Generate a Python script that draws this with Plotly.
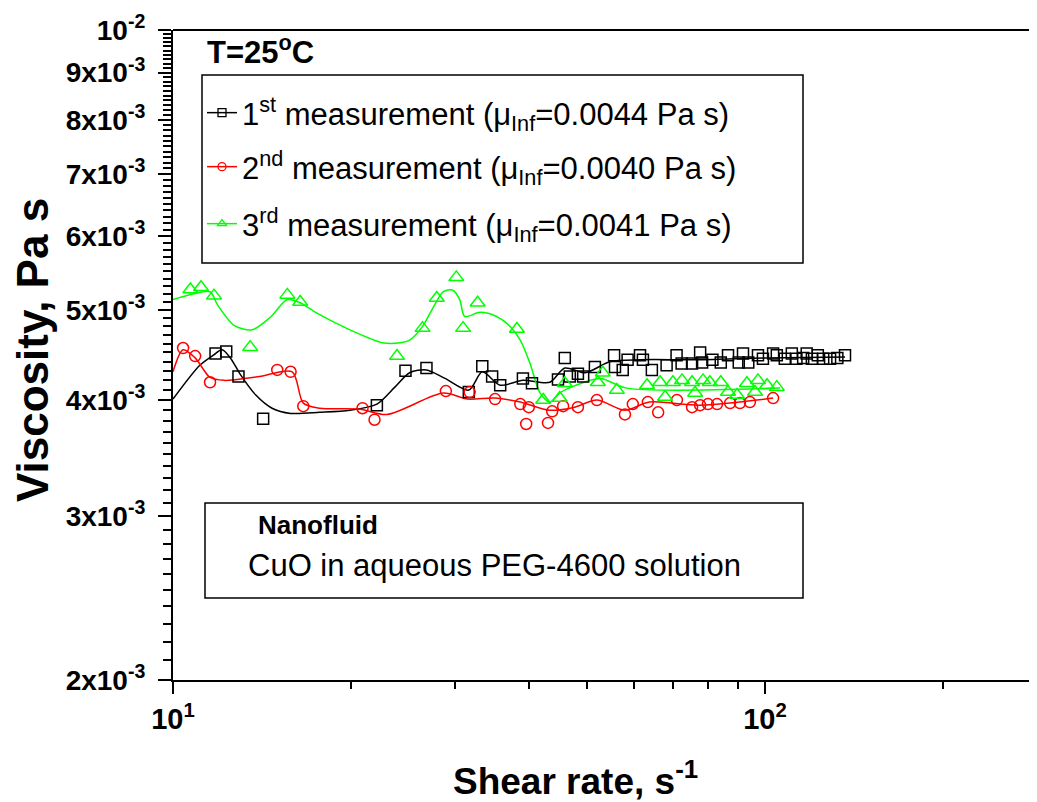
import numpy as np
import plotly.graph_objects as go

# ---------------- data ----------------
# 1st measurement (black squares)
shear_1 = [11.8, 12.3, 12.9, 14.2, 22.1, 24.7, 26.8, 31.6, 33.3, 34.6, 35.7, 39.0, 40.4, 44.7, 45.9,
           46.8, 48.3, 49.3, 51.6, 55.6, 55.8, 57.5, 58.6, 61.5, 62.2, 64.4, 68.2, 70.9, 72.3, 75.3,
           77.7, 78.3, 81.5, 84.2, 86.6, 90.3, 91.8, 93.7, 97.3, 99.2, 103.2, 104.7, 108.0, 111.0,
           113.0, 116.0, 117.6, 120.0, 122.8, 125.4, 128.8, 132.5, 136.5]
visc_1 = [4.49, 4.51, 4.24, 3.82, 3.95, 4.30, 4.33, 4.08, 4.35, 4.24, 4.15, 4.22, 4.17, 4.21, 4.44,
          4.24, 4.27, 4.24, 4.34, 4.47, 4.34, 4.31, 4.42, 4.47, 4.42, 4.31, 4.36, 4.47, 4.38, 4.38,
          4.50, 4.39, 4.42, 4.39, 4.47, 4.39, 4.49, 4.39, 4.47, 4.43, 4.49, 4.47, 4.43, 4.49,
          4.43, 4.44, 4.49, 4.43, 4.47, 4.43, 4.43, 4.44, 4.47]  # x1e-3 Pa s

# 2nd measurement (red circles)
shear_2 = [10.4, 10.9, 11.55, 15.0, 15.8, 16.6, 20.9, 21.9, 28.9, 31.7, 35.0, 38.6, 39.5, 39.9, 43.0,
           43.7, 45.6, 48.3, 52.0, 58.0, 59.8, 63.4, 66.0, 71.0, 75.3, 77.7, 80.1, 83.0, 87.3, 90.7,
           94.3, 103.2]
visc_2 = [4.55, 4.46, 4.18, 4.31, 4.29, 3.94, 3.92, 3.81, 4.09, 4.08, 4.01, 3.96, 3.77, 3.93, 3.78,
          3.89, 3.94, 3.93, 4.00, 3.86, 3.96, 3.98, 3.88, 4.00, 3.93, 3.95, 3.96, 3.96, 3.97, 3.97,
          3.98, 4.02]

# 3rd measurement (green triangles)
shear_3 = [10.7, 11.15, 11.73, 13.5, 15.6, 16.4, 23.9, 26.4, 27.9, 30.1, 30.9, 32.7, 38.1, 42.2, 45.0,
           45.9, 52.2, 53.2, 56.2, 63.2, 66.5, 67.8, 69.9, 72.4, 75.3, 76.2, 78.6, 80.7, 84.2, 86.6,
           89.7, 93.2, 96.2, 97.3, 100.8, 104.7]
visc_3 = [5.26, 5.29, 5.18, 4.56, 5.19, 5.10, 4.46, 4.78, 5.15, 5.42, 4.78, 5.09, 4.77, 4.00, 4.02,
          4.17, 4.18, 4.28, 4.10, 4.15, 4.18, 4.03, 4.18, 4.20, 4.18, 4.07, 4.20, 4.18, 4.18, 4.08,
          4.05, 4.17, 4.08, 4.20, 4.15, 4.13]

# smoothed curves drawn through each series
fit_x_1 = [10, 11.1, 11.7, 12.1, 12.5, 13.0, 13.8, 14.7, 15.8, 17.7, 19.9, 22.1, 23.7, 25.1, 26.8, 28.8,
           31.6, 33.3, 35.7, 39.0, 43.3, 45.9, 49.7, 54.8, 61.5, 77.7, 100, 136.5]
fit_y_1 = [4.01, 4.36, 4.47, 4.53, 4.44, 4.26, 4.05, 3.92, 3.87, 3.88, 3.90, 3.96, 4.13, 4.28, 4.31, 4.22,
           4.10, 4.29, 4.15, 4.20, 4.18, 4.33, 4.28, 4.40, 4.42, 4.42, 4.44, 4.45]
fit_x_2 = [10, 10.4, 10.9, 11.55, 12.2, 14.0, 15.9, 16.6, 17.7, 20.7, 23.0, 28.6, 31.4, 35.0, 38.6, 43.3,
           47.7, 52.0, 58.0, 63.8, 77.7, 103.2]
fit_y_2 = [4.29, 4.53, 4.44, 4.23, 4.20, 4.24, 4.29, 3.97, 3.92, 3.91, 3.86, 4.07, 4.01, 4.02, 3.98, 3.90,
           3.93, 4.00, 3.90, 3.98, 3.95, 4.02]
fit_x_3 = [10, 10.8, 11.55, 11.9, 12.7, 13.6, 14.6, 15.6, 16.4, 17.5, 19.9, 22.6, 24.2, 25.1, 26.4, 27.5,
           28.6, 29.7, 30.5, 31.1, 33.0, 35.2, 37.1, 38.6, 40.1, 41.7, 43.3, 45.0, 47.5, 52.7, 58.4, 106]
fit_y_3 = [5.13, 5.20, 5.23, 5.06, 4.81, 4.76, 4.91, 5.13, 5.09, 4.96, 4.76, 4.61, 4.61, 4.64, 4.80, 5.03,
           5.23, 5.25, 5.13, 4.92, 4.97, 4.92, 4.80, 4.64, 4.38, 4.07, 3.98, 4.07, 4.14, 4.22, 4.12, 4.12]

series_names = [
    "1<sup>st</sup> measurement (\u03bc<sub>Inf</sub>=0.0044 Pa s)",
    "2<sup>nd</sup> measurement (\u03bc<sub>Inf</sub>=0.0040 Pa s)",
    "3<sup>rd</sup> measurement (\u03bc<sub>Inf</sub>=0.0041 Pa s)",
]

y_tick_vals = [2e-3, 3e-3, 4e-3, 5e-3, 6e-3, 7e-3, 8e-3, 9e-3, 1e-2]
y_tick_text = ["2x10<sup>-3</sup>", "3x10<sup>-3</sup>", "4x10<sup>-3</sup>", "5x10<sup>-3</sup>",
               "6x10<sup>-3</sup>", "7x10<sup>-3</sup>", "8x10<sup>-3</sup>", "9x10<sup>-3</sup>",
               "10<sup>-2</sup>"]
x_tick_vals = [10, 100]
x_tick_text = ["10<sup>1</sup>", "10<sup>2</sup>"]

# ---------------- layout geometry (page pixels) ----------------
# the page body has an 8px default margin, so the figure is shifted by 8px
OFF = 8
W, H = 1037 - OFF, 802 - OFF
L, T = 173 - OFF, 30 - OFF
PLOT_R, PLOT_B = W, 680 - OFF
R, B = W - PLOT_R, H - PLOT_B
PW, PH = PLOT_R - L, PLOT_B - T
DECADE_PX = 592.0

def px(x):
    return (x - OFF - L) / PW

def py(y):
    return (PLOT_B - (y - OFF)) / PH

FONT = "Arial, 'Liberation Sans', sans-serif"
colors = ["#000000", "#ff0000", "#00ff00"]
symbols = ["square-open", "circle-open", "triangle-up-open"]
msizes = [11, 11, 13]

fig = go.Figure()

fits = [(fit_x_1, fit_y_1), (fit_x_2, fit_y_2), (fit_x_3, fit_y_3)]
pts = [(shear_1, visc_1), (shear_2, visc_2), (shear_3, visc_3)]

for i, (fx, fy) in enumerate(fits):
    fig.add_trace(go.Scatter(x=fx, y=[v * 1e-3 for v in fy], mode="lines",
                             line=dict(color=colors[i], width=1.5, shape="spline", smoothing=0.8),
                             showlegend=False, hoverinfo="skip"))
for i, (sx, sv) in enumerate(pts):
    fig.add_trace(go.Scatter(x=sx, y=[v * 1e-3 for v in sv], mode="markers",
                             marker=dict(symbol=symbols[i], size=msizes[i], color=colors[i],
                                         line=dict(width=1.5, color=colors[i])),
                             showlegend=False))

legend_rows = [113, 167, 224]
legend_keys = ["legend", "legend2", "legend3"]
for i in range(3):
    fig.add_trace(go.Scatter(x=[None], y=[None], mode="lines+markers", name=series_names[i],
                             line=dict(color=colors[i], width=1.5),
                             marker=dict(symbol=symbols[i], size=8, color=colors[i],
                                         line=dict(width=1.3, color=colors[i])),
                             legend=legend_keys[i]))

leg_common = dict(bgcolor="rgba(0,0,0,0)", borderwidth=0, xanchor="left", yanchor="middle",
                  font=dict(family=FONT, size=31, color="black"), itemwidth=30)
fig.update_layout(
    legend=dict(x=px(202), y=py(legend_rows[0]), **leg_common),
    legend2=dict(x=px(202), y=py(legend_rows[1]), **leg_common),
    legend3=dict(x=px(202), y=py(legend_rows[2]), **leg_common),
)

y_minor = [v * 1e-4 for v in range(20, 100) if v % 10 != 0]
x_minor = [20, 30, 40, 50, 60, 70, 80, 90, 200]

fig.update_layout(
    width=W, height=H, autosize=False,
    margin=dict(l=L, r=R, t=T, b=B, pad=0),
    paper_bgcolor="white", plot_bgcolor="white",
    font=dict(family=FONT, color="black"),
    xaxis=dict(type="log", range=[1, 1 + PW / DECADE_PX], showgrid=False, zeroline=False,
               showline=True, linewidth=2, linecolor="black", mirror=False,
               ticks="outside", ticklen=12, tickwidth=1.5, tickcolor="black",
               tickmode="array", tickvals=x_tick_vals,
               ticktext=["<b>%s</b>" % t for t in x_tick_text],
               tickfont=dict(family=FONT, size=29, color="black"), ticklabelstandoff=0,
               minor=dict(tickmode="array", tickvals=x_minor, ticks="outside", ticklen=7,
                          tickwidth=1.5, tickcolor="black", showgrid=False)),
    yaxis=dict(type="log", range=[np.log10(2e-3), -2], showgrid=False, zeroline=False,
               showline=True, linewidth=2, linecolor="black",
               ticks="outside", ticklen=13, tickwidth=1.5, tickcolor="black",
               tickmode="array", tickvals=y_tick_vals,
               ticktext=["<b>%s</b>" % t for t in y_tick_text],
               tickfont=dict(family=FONT, size=28, color="black"), ticklabelstandoff=7,
               minor=dict(tickmode="array", tickvals=y_minor, ticks="outside", ticklen=8,
                          tickwidth=1.5, tickcolor="black", showgrid=False)),
)

shapes = [
    # top frame line
    dict(type="line", xref="paper", yref="paper", x0=0, x1=1, y0=1, y1=1,
         line=dict(color="black", width=2)),
    dict(type="rect", xref="paper", yref="paper", x0=px(202), x1=px(803), y0=py(263), y1=py(75),
         line=dict(color="black", width=1.5), fillcolor="rgba(0,0,0,0)"),
    dict(type="rect", xref="paper", yref="paper", x0=px(205), x1=px(803), y0=py(598), y1=py(503),
         line=dict(color="black", width=1.5), fillcolor="rgba(0,0,0,0)"),
]
fig.update_layout(shapes=shapes)

annotations = [
    dict(text="<b>T=25<sup>o</sup>C</b>", x=px(205), y=py(50), xanchor="left", yanchor="middle",
         font=dict(family=FONT, size=31, color="black")),
    dict(text="<b>Nanofluid</b>", x=px(256), y=py(525), xanchor="left", yanchor="middle",
         font=dict(family=FONT, size=26, color="black")),
    dict(text="CuO in aqueous PEG-4600 solution", x=px(246), y=py(565), xanchor="left", yanchor="middle",
         font=dict(family=FONT, size=31, color="black")),
    dict(text="<b>Shear rate, s<sup>-1</sup></b>", x=px(575), y=py(778), xanchor="center", yanchor="middle",
         font=dict(family=FONT, size=37, color="black")),
    dict(text="<b>Viscosity, Pa s</b>", x=px(32), y=py(350), xanchor="center", yanchor="middle",
         textangle=-90, font=dict(family=FONT, size=44, color="black")),
]
for a in annotations:
    a.update(xref="paper", yref="paper", showarrow=False)
fig.update_layout(annotations=annotations)

fig.write_html("out.html")
